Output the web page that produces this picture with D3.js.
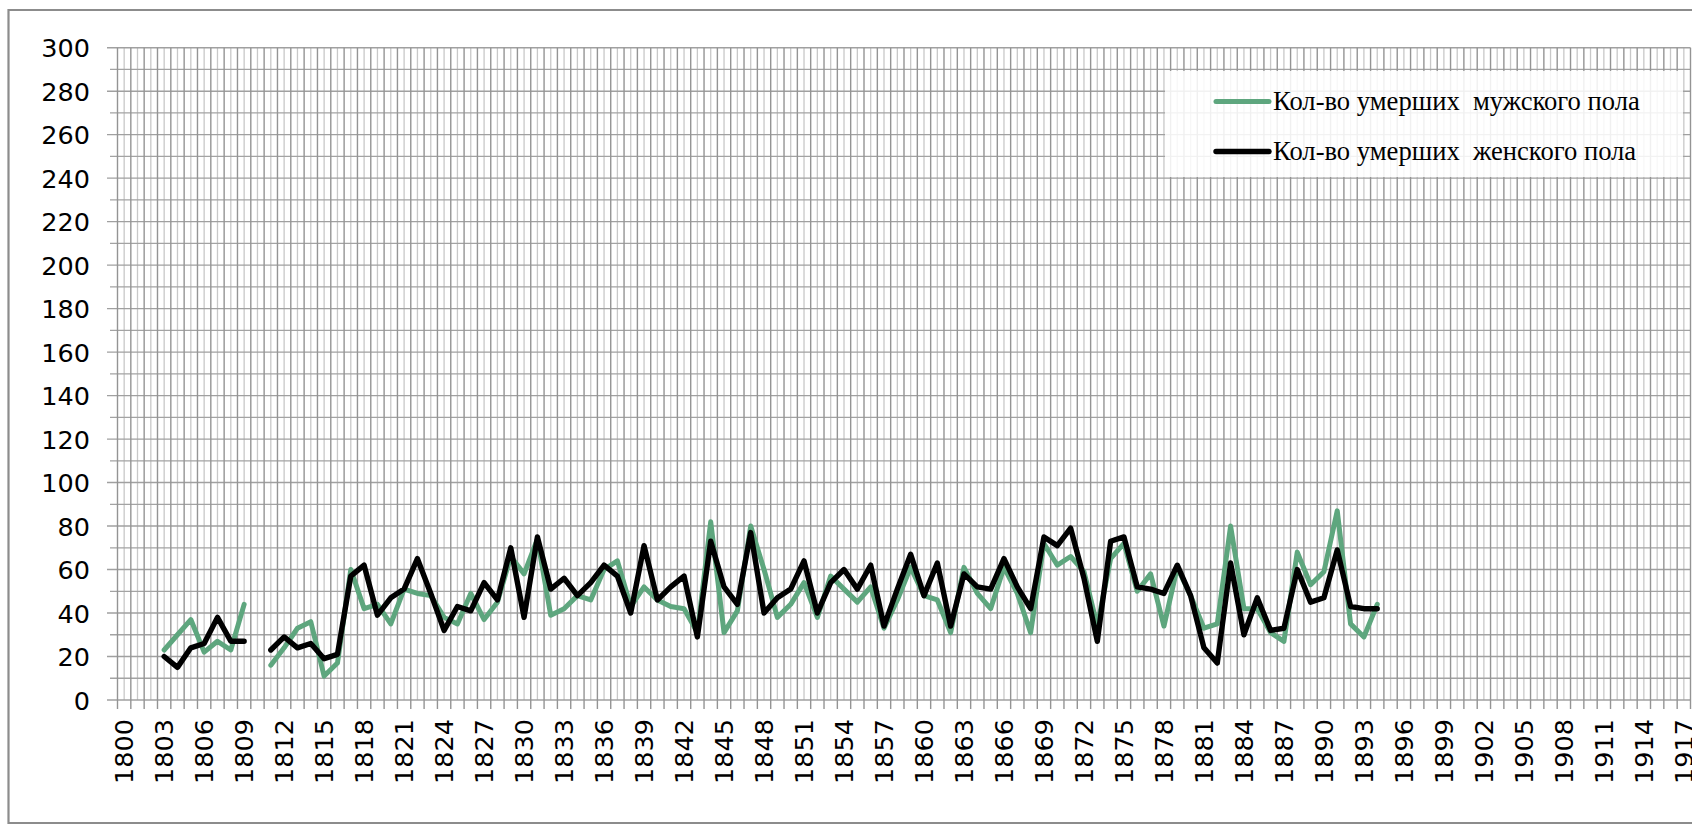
<html><head>
  <script type="text/javascript" src="https://d3js.org/d3.v7.min.js"></script>
  <style>
    body { margin: 0; background: #fff; }
    .line { fill: none; stroke-linejoin: round; stroke-linecap: round; }
    .tick-label { font-family: "DejaVu Sans", sans-serif; font-size: 25.5px; fill: #000; }
    .legend-text { font-family: "Liberation Serif", "Times New Roman", serif; font-size: 26.6px; fill: #000; white-space: pre; }
  </style>
</head>
<body>
<script>
  // data, one value per year, null = no record
  var years = d3.range(1803, 1895);
  var male = [23,30,37,22,27,23,44,null,
    16,24,33,36,11,17,60,42,44,35,
    51,49,48,38,35,49,37,45,66,58,
    74,39,42,48,46,60,64,43,52,46,
    43,42,31,82,31,41,80,60,38,44,
    54,38,57,51,45,52,33,46,61,48,
    46,31,61,49,42,61,49,31,72,62,
    66,59,34,65,72,50,58,34,61,48,
    33,35,80,42,42,31,27,68,53,59,
    87,35,29,44];
  var female = [20,15,24,26,38,27,27,null,
    23,29,24,26,19,21,57,62,39,47,
    51,65,49,32,43,41,54,46,70,38,
    75,51,56,48,54,62,57,40,71,46,
    52,57,29,73,52,44,77,40,47,51,
    64,40,54,60,51,62,34,51,67,48,
    63,34,58,52,51,65,52,42,75,71,
    79,56,27,73,75,52,51,49,62,48,
    24,17,63,30,47,32,33,60,45,47,
    69,43,42,42];
  var axisYears = d3.range(1800, 1918);
  var yTicks = d3.range(0, 301, 20);
  var yMinor = d3.range(10, 300, 20);
  var seriesNames = ["Кол-во умерших  мужского пола", "Кол-во умерших  женского пола"];
  var colors = ["#5ea67e", "#000000"];
  var widths = [5, 5.4];

  var W = 1692, H = 825;
  var plotL = 117.5, plotR = 1690.5, plotT = 47.7, plotB = 700;

  var x = d3.scaleBand().domain(axisYears).range([plotL, plotR]).padding(0);
  var y = d3.scaleLinear().domain([0, 300]).range([plotB, plotT]);
  var bw = x.bandwidth();

  var svg = d3.select("body").append("svg")
    .attr("width", W).attr("height", H);

  svg.append("rect").attr("width", W).attr("height", H).attr("fill", "#fff");

  // chart border (cropped on the right)
  svg.append("path")
    .attr("d", "M1700,10 H8.5 V823 H1700")
    .attr("fill", "none").attr("stroke", "#8c8c8c").attr("stroke-width", 2.2);

  var grid = svg.append("g");

  // vertical minor gridlines at category centres
  grid.selectAll(".vminor").data(axisYears).enter().append("line")
    .attr("x1", function(d) { return x(d) + bw / 2; })
    .attr("x2", function(d) { return x(d) + bw / 2; })
    .attr("y1", plotT).attr("y2", plotB)
    .attr("stroke", "#c8c8c8").attr("stroke-width", 1.3);

  // horizontal gridlines every 10
  grid.selectAll(".hminor").data(yMinor).enter().append("line")
    .attr("x1", 110).attr("x2", plotR)
    .attr("y1", function(d) { return y(d); })
    .attr("y2", function(d) { return y(d); })
    .attr("stroke", "#a3a3a3").attr("stroke-width", 1.3);
  grid.selectAll(".hmajor").data(yTicks).enter().append("line")
    .attr("x1", 107).attr("x2", plotR)
    .attr("y1", function(d) { return y(d); })
    .attr("y2", function(d) { return y(d); })
    .attr("stroke", "#a0a0a0").attr("stroke-width", 1.4);

  // vertical major gridlines on category boundaries, with tick below the axis
  var bounds = axisYears.map(function(d) { return x(d); }).concat([plotR]);
  grid.selectAll(".vmajor").data(bounds).enter().append("line")
    .attr("x1", function(d) { return d; })
    .attr("x2", function(d) { return d; })
    .attr("y1", plotT).attr("y2", plotB + 9)
    .attr("stroke", "#949494").attr("stroke-width", 1.4);

  // y axis labels
  svg.append("g")
    .attr("transform", "translate(" + 90 + ",0)")
    .call(d3.axisLeft(y).tickValues(yTicks).tickSize(0).tickPadding(0))
    .call(function(g) { g.select(".domain").remove(); })
    .selectAll("text").attr("class", "tick-label")
    .attr("dy", "0.36em");

  // x axis labels, every third year, rotated
  var xAxis = svg.append("g")
    .attr("transform", "translate(0," + 719 + ")")
    .call(d3.axisBottom(x)
      .tickValues(axisYears.filter(function(d) { return (d - 1800) % 3 === 0; }))
      .tickSize(0));
  xAxis.select(".domain").remove();
  xAxis.selectAll("text")
    .attr("class", "tick-label")
    .attr("text-anchor", "end")
    .attr("transform", "rotate(-90)")
    .attr("x", 0).attr("y", 0).attr("dy", "0.36em");

  // lines
  var valueline = d3.line()
    .defined(function(d) { return d.v != null; })
    .x(function(d) { return x(d.year) + bw / 2; })
    .y(function(d) { return y(d.v); });

  [male, female].forEach(function(vals, i) {
    var data = years.map(function(yr, k) { return {year: yr, v: vals[k]}; });
    svg.append("path")
      .datum(data)
      .attr("class", "line")
      .attr("stroke", colors[i])
      .attr("stroke-width", widths[i])
      .attr("d", valueline);
  });

  // legend
  var lg = svg.append("g");
  lg.append("rect")
    .attr("x", 1165).attr("y", 71).attr("width", 518).attr("height", 106)
    .attr("fill", "#fff").attr("fill-opacity", 0.86);
  seriesNames.forEach(function(name, i) {
    var cy = 101.5 + i * 50;
    lg.append("line")
      .attr("x1", 1216).attr("x2", 1269)
      .attr("y1", cy).attr("y2", cy)
      .attr("stroke", colors[i]).attr("stroke-width", widths[i])
      .attr("stroke-linecap", "round");
    lg.append("text")
      .attr("class", "legend-text")
      .attr("x", 1273).attr("y", cy + 8.5)
      .text(name);
  });
</script>
</body></html>
